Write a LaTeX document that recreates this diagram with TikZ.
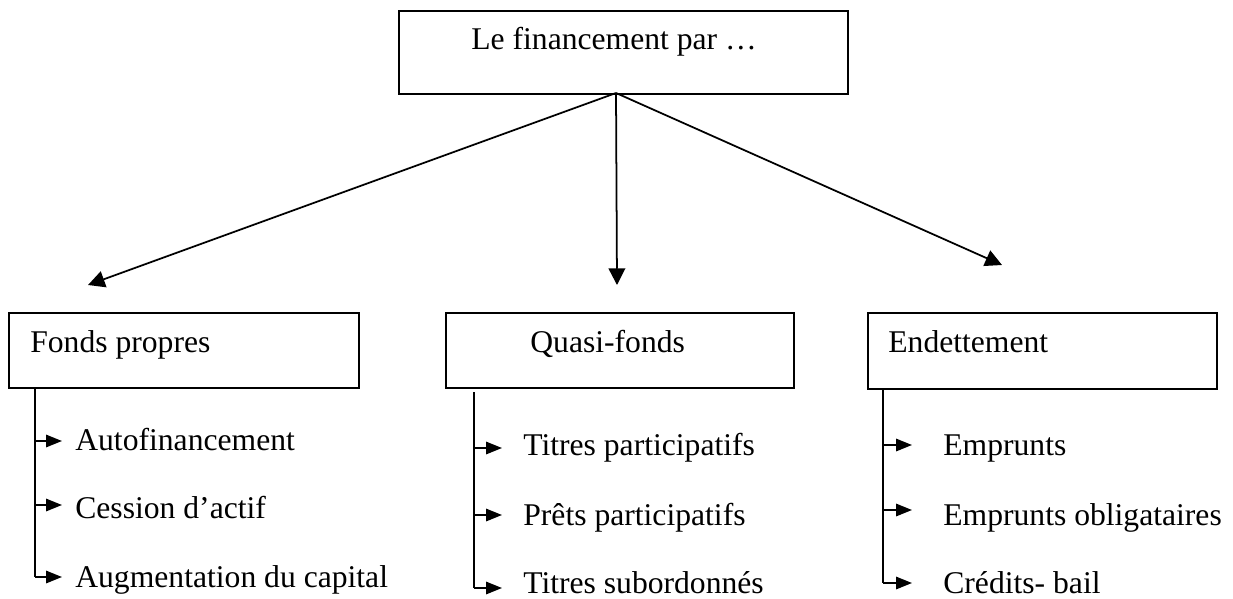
\documentclass[tikz,border=0pt]{standalone}
\usepackage{fontspec}
\setmainfont{Liberation Serif}
\usepackage{tikz}
\usetikzlibrary{arrows.meta}

\tikzset{
  box/.style={draw, line width=1pt, inner sep=0pt, anchor=north west},
  txt/.style={inner sep=0pt, anchor=base west, font=\fontsize{18}{21}\selectfont},
  bigarrow/.style={-{Triangle[length=9.5pt,width=9.5pt]}, line width=1pt},
  smallarrow/.style={-{Triangle[length=9pt,width=7pt]}, line width=1pt}
}

\begin{document}
\begin{tikzpicture}[x=0.02cm,y=-0.02cm]
  \useasboundingbox (0,0) rectangle (1233,598);
  % boites
  \node[box, minimum width=8.98cm, minimum height=1.66cm] (top) at (398,10) {};
  \node[box, minimum width=7.0cm, minimum height=1.5cm] (fp) at (8,312) {};
  \node[box, minimum width=6.96cm, minimum height=1.5cm] (qf) at (445,312) {};
  \node[box, minimum width=6.98cm, minimum height=1.52cm] (en) at (867,312) {};
  \node[txt] (toptxt) at (471,50) {Le financement par …};
  \node[txt] (fptxt) at (30,352) {Fonds propres};
  \node[txt] (qftxt) at (530,352) {Quasi-fonds};
  \node[txt] (entxt) at (888,352) {Endettement};
  % fleches principales
  \coordinate (src) at (616,93);
  \coordinate (tipfp) at (88,285);
  \coordinate (tipqf) at (617,285);
  \coordinate (tipen) at (1002,265);
  \draw[bigarrow] (src) -- (tipfp);
  \draw[bigarrow] (src) -- (tipqf);
  \draw[bigarrow] (src) -- (tipen);
  % fonds propres
  \node[txt] (fp1) at (75,450) {Autofinancement};
  \node[txt] (fp2) at (75,518) {Cession d’actif};
  \node[txt] (fp3) at (75,587) {Augmentation du capital};
  \coordinate (fpa) at (35,387);
  \coordinate (fpb) at (35,577);
  \draw[line width=1pt] (fpa) -- (fpb);
  \draw[smallarrow] (35,441) -- (62,441);
  \draw[smallarrow] (35,505) -- (62,505);
  \draw[smallarrow] (fpb) -- (62,577);
  % quasi-fonds
  \node[txt] (qf1) at (523,455) {Titres participatifs};
  \node[txt] (qf2) at (523,525) {Prêts participatifs};
  \node[txt] (qf3) at (523,593) {Titres subordonnés};
  \coordinate (qfa) at (474,392);
  \coordinate (qfb) at (474,588);
  \draw[line width=1pt] (qfa) -- (qfb);
  \draw[smallarrow] (474,448) -- (502,448);
  \draw[smallarrow] (474,515) -- (502,515);
  \draw[smallarrow] (qfb) -- (502,588);
  % endettement
  \node[txt] (en1) at (943,455) {Emprunts};
  \node[txt] (en2) at (943,525) {Emprunts obligataires};
  \node[txt] (en3) at (943,593) {Crédits- bail};
  \coordinate (ena) at (883,388);
  \coordinate (enb) at (883,583);
  \draw[line width=1pt] (ena) -- (enb);
  \draw[smallarrow] (883,445) -- (912,445);
  \draw[smallarrow] (883,510) -- (912,510);
  \draw[smallarrow] (enb) -- (912,583);
\end{tikzpicture}
\end{document}
